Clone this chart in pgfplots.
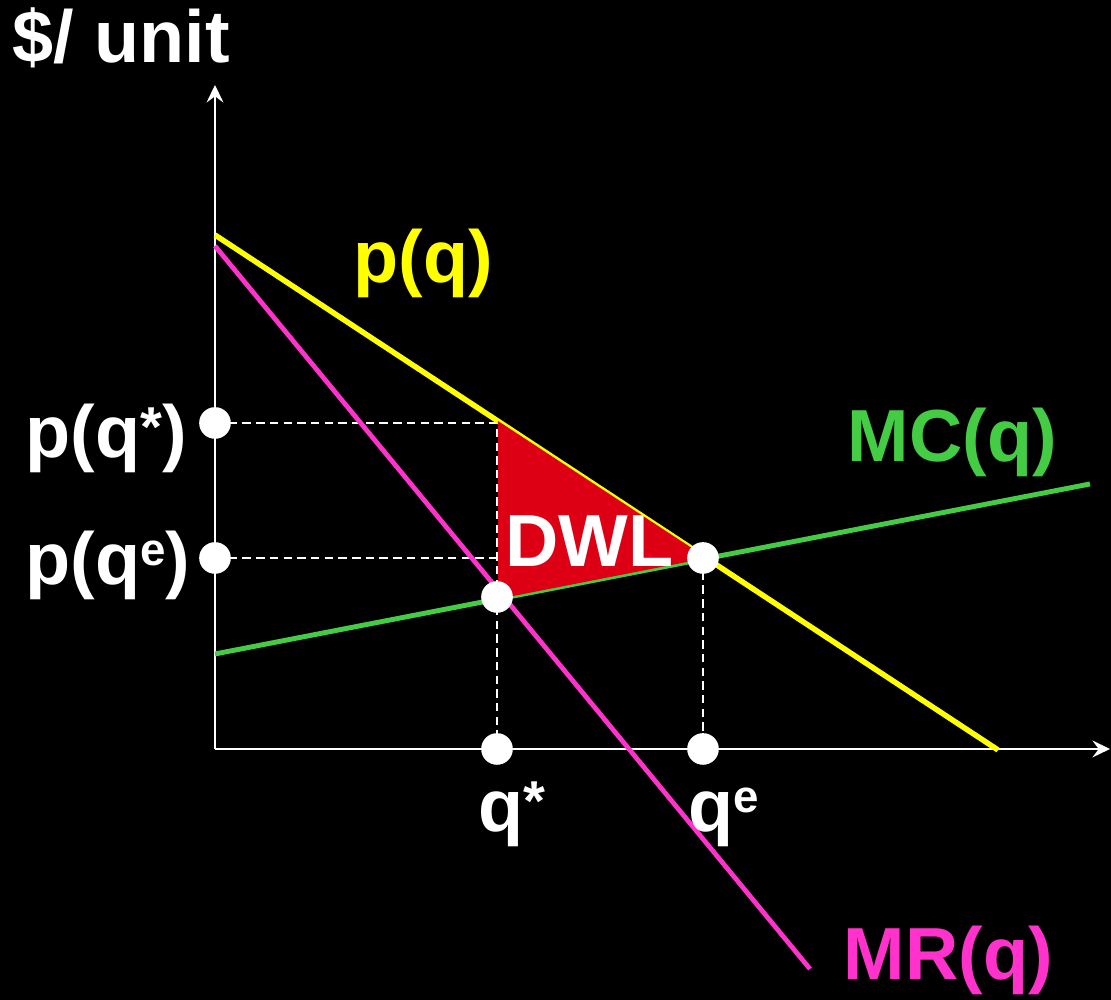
\documentclass[border=0pt]{standalone}
\usepackage{pgfplots}
\pgfplotsset{compat=1.18}
\usetikzlibrary{arrows.meta}
\usepackage{fontspec}
\setmainfont{Liberation Sans}

\definecolor{demand}{RGB}{255,255,0}
\definecolor{margrev}{RGB}{255,51,204}
\definecolor{margcost}{RGB}{68,204,68}
\definecolor{dwlred}{RGB}{221,0,20}

\newcommand{\lab}{\fontsize{21}{25}\selectfont\bfseries}
\newcommand{\supe}{\raisebox{0.27em}{\fontsize{13}{13}\selectfont e}}
\newcommand{\supst}{\raisebox{0.16em}{\fontsize{16}{16}\selectfont *}}

\begin{document}
\begin{tikzpicture}
\begin{axis}[
  width=11.11cm, height=10cm, scale only axis,
  xmin=0, xmax=1111, ymin=0, ymax=1000,
  axis lines=none, clip=false,
  axis background/.style={fill=black},
]
% axes
\addplot[white, line width=0.7pt, -{Stealth[length=5pt,width=4.8pt,inset=1.8pt]}]
  coordinates {(215,251) (215,915)};
\addplot[white, line width=0.7pt, -{Stealth[length=5pt,width=4.8pt,inset=1.8pt]}]
  coordinates {(215,251) (1110,251)};

% guide lines
\addplot[white, line width=0.65pt, dash pattern=on 2.4pt off 1.5pt]
  coordinates {(215,577) (497,577) (497,251)};
\addplot[white, line width=0.65pt, dash pattern=on 2.4pt off 1.5pt]
  coordinates {(215,442) (497,442)};
\addplot[white, line width=0.65pt, dash pattern=on 2.4pt off 1.5pt]
  coordinates {(703,442) (703,251)};

% curves
\addplot[margcost, line width=1.4pt] coordinates {(215,346) (1090,516)};
\addplot[margrev, line width=1.35pt] coordinates {(215,754) (810,31)};
\addplot[demand, line width=1.55pt] coordinates {(215,765) (998,250)};

% deadweight loss
\addplot[fill=dwlred, draw=none] coordinates {(498,579) (707,442) (498,401)} -- cycle;

% points
\addplot[only marks, mark=*, mark size=4.3pt, white]
  coordinates {(215,577) (215,442) (497,403) (703,442) (497,251) (703,251)};

% labels
\node[anchor=base west, inner sep=0, text=white, font=\lab] at (axis cs:12,937) {\$/ unit};
\node[anchor=base west, inner sep=0, text=demand, font=\lab] at (axis cs:353,717) {p(q)};
\node[anchor=base west, inner sep=0, text=white, font=\lab] at (axis cs:25,542) {p(q\supst)};
\node[anchor=base west, inner sep=0, text=white, font=\lab] at (axis cs:25,415) {p(q\supe)};
\node[anchor=base west, inner sep=0, text=white, font=\lab] at (axis cs:505,433) {DWL};
\node[anchor=base west, inner sep=0, text=margcost, font=\lab] at (axis cs:847,538) {MC(q)};
\node[anchor=base west, inner sep=0, text=margrev, font=\lab] at (axis cs:843,20) {MR(q)};
\node[anchor=base west, inner sep=0, text=white, font=\lab] at (axis cs:478,168) {q\supst};
\node[anchor=base west, inner sep=0, text=white, font=\lab] at (axis cs:688,168) {q\supe};
\end{axis}
\pgfresetboundingbox
\path[use as bounding box] (0,0) rectangle (11.11cm,10cm);
\end{tikzpicture}
\end{document}
